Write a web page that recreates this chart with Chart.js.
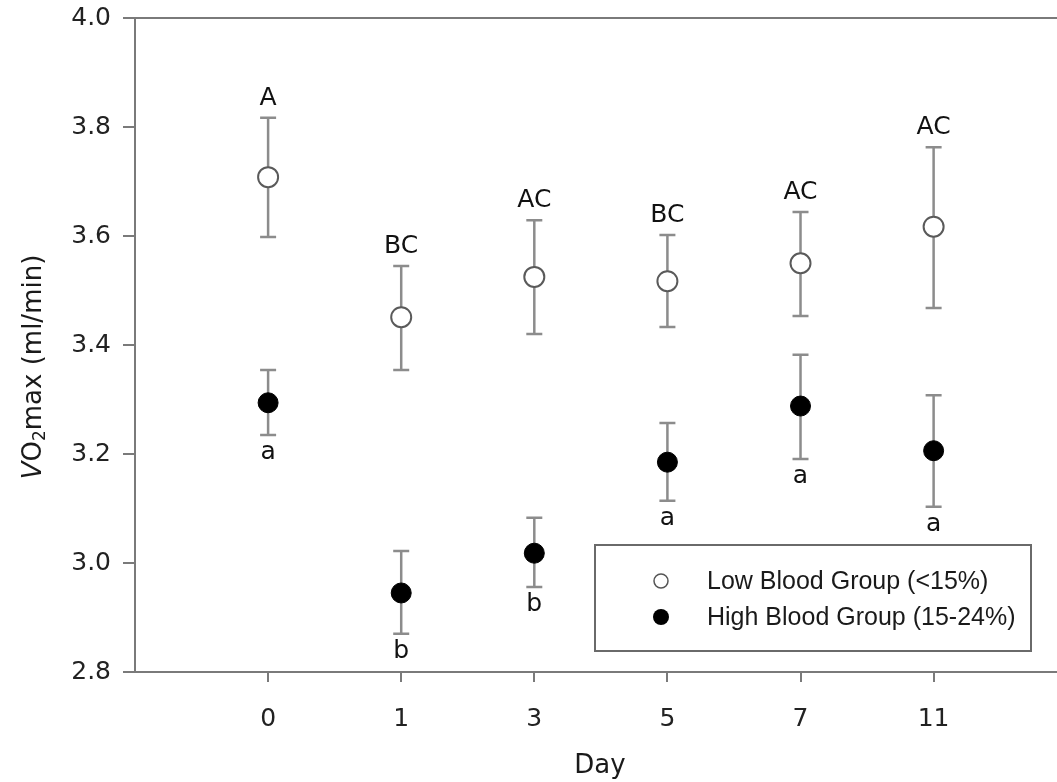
<!DOCTYPE html>
<html>
<head>
<meta charset="utf-8">
<script src="https://cdn.jsdelivr.net/npm/chart.js@4/dist/chart.umd.min.js"></script>
<style>
  html, body { margin: 0; padding: 0; background: #fff; }
  #c { display: block; }
</style>
</head>
<body>
<canvas id="c" width="1057" height="782"></canvas>
<script>
// ---- data ----
const days = ["0", "1", "3", "5", "7", "11"];
const lowMean  = [3.708, 3.451, 3.525, 3.517, 3.550, 3.617];
const lowUpper = [3.817, 3.545, 3.629, 3.602, 3.644, 3.763];
const lowLower = [3.598, 3.354, 3.420, 3.433, 3.453, 3.468];
const highMean  = [3.294, 2.945, 3.018, 3.185, 3.288, 3.206];
const highUpper = [3.354, 3.022, 3.083, 3.257, 3.382, 3.308];
const highLower = [3.235, 2.870, 2.956, 3.114, 3.191, 3.103];
const lowLetters  = ["A", "BC", "AC", "BC", "AC", "AC"];
const highLetters = ["a", "b", "b", "a", "a", "a"];
const yTickValues = [2.8, 3.0, 3.2, 3.4, 3.6, 3.8, 4.0];
const seriesNames = ["Low Blood Group (<15%)", "High Blood Group (15-24%)"];

const FONT = "'DejaVu Sans', sans-serif";
const LFONT = "'Liberation Sans', Arial, sans-serif";
const AXIS = "#7a7a7a";
const BAR = "#8c8c8c";

const toPts = arr => arr.map((v, i) => ({ x: i, y: v }));

const errorBars = {
  id: 'errorBars',
  beforeDatasetsDraw(chart) {
    const { ctx, scales: { x, y } } = chart;
    const sets = [[lowUpper, lowLower], [highUpper, highLower]];
    ctx.save();
    ctx.strokeStyle = BAR;
    ctx.lineWidth = 2.5;
    sets.forEach(([up, lo]) => {
      up.forEach((u, i) => {
        const px = x.getPixelForValue(i);
        const pu = y.getPixelForValue(u);
        const pl = y.getPixelForValue(lo[i]);
        ctx.beginPath();
        ctx.moveTo(px, pu); ctx.lineTo(px, pl);
        ctx.moveTo(px - 8, pu); ctx.lineTo(px + 8, pu);
        ctx.moveTo(px - 8, pl); ctx.lineTo(px + 8, pl);
        ctx.stroke();
      });
    });
    ctx.restore();
  },
  afterDatasetsDraw(chart) {
    const { ctx, scales: { x, y } } = chart;
    ctx.save();
    ctx.fillStyle = "#111";
    ctx.font = "25px " + FONT;
    ctx.textAlign = "center";
    ctx.textBaseline = "alphabetic";
    lowLetters.forEach((t, i) => {
      ctx.fillText(t, x.getPixelForValue(i), y.getPixelForValue(lowUpper[i]) - 13);
    });
    highLetters.forEach((t, i) => {
      ctx.fillText(t, x.getPixelForValue(i), y.getPixelForValue(highLower[i]) + 24);
    });

    // legend box
    ctx.strokeStyle = "#6a6a6a";
    ctx.lineWidth = 2;
    ctx.strokeRect(595, 545, 436, 106);
    ctx.textAlign = "left";
    ctx.textBaseline = "middle";
    const rows = [581, 617];
    ctx.beginPath(); ctx.arc(661, rows[0], 7, 0, Math.PI * 2);
    ctx.fillStyle = "#fff"; ctx.fill();
    ctx.lineWidth = 1.5; ctx.strokeStyle = "#555"; ctx.stroke();
    ctx.beginPath(); ctx.arc(661, rows[1], 8, 0, Math.PI * 2);
    ctx.fillStyle = "#000"; ctx.fill();
    ctx.fillStyle = "#1a1a1a";
    ctx.font = "25px " + LFONT;
    ctx.fillText(seriesNames[0], 707, rows[0] + 1);
    ctx.fillText(seriesNames[1], 707, rows[1] + 1);

    // x title
    ctx.textAlign = "center";
    ctx.font = "26px " + FONT;
    ctx.fillText("Day", (chart.chartArea.left + chart.chartArea.right) / 2 + 4, 766);

    // y title with italic V and subscript 2
    const cy = (chart.chartArea.top + chart.chartArea.bottom) / 2 + 22;
    ctx.translate(34, cy);
    ctx.rotate(-Math.PI / 2);
    const parts = [
      { t: "V", f: "italic 26px " + FONT, dy: 0 },
      { t: "O", f: "26px " + FONT, dy: 0 },
      { t: "2", f: "17px " + FONT, dy: 7 },
      { t: "max (ml/min)", f: "26px " + FONT, dy: 0 }
    ];
    let total = 0;
    parts.forEach(p => { ctx.font = p.f; p.w = ctx.measureText(p.t).width; total += p.w; });
    let cx = -total / 2;
    ctx.textAlign = "left";
    parts.forEach(p => { ctx.font = p.f; ctx.fillText(p.t, cx, p.dy); cx += p.w; });
    ctx.restore();
  }
};

new Chart(document.getElementById('c'), {
  type: 'scatter',
  data: {
    datasets: [
      {
        label: seriesNames[0],
        data: toPts(lowMean),
        pointRadius: 10,
        pointBackgroundColor: '#ffffff',
        pointBorderColor: '#5a5a5a',
        pointBorderWidth: 2,
        showLine: false
      },
      {
        label: seriesNames[1],
        data: toPts(highMean),
        pointRadius: 10,
        pointBackgroundColor: '#000000',
        pointBorderColor: '#000000',
        pointBorderWidth: 1,
        showLine: false
      }
    ]
  },
  options: {
    responsive: false,
    devicePixelRatio: 1,
    animation: false,
    layout: { padding: 0, autoPadding: false },
    plugins: { legend: { display: false }, tooltip: { enabled: false } },
    scales: {
      x: {
        type: 'linear',
        position: 'bottom',
        min: -1,
        max: 5.927,
        afterBuildTicks: s => { s.ticks = days.map((d, i) => ({ value: i })); },
        afterFit: s => { s.height = 110; s.paddingLeft = 0; s.paddingRight = 0; },
        ticks: {
          callback: v => days[v],
          font: { family: FONT, size: 25 },
          color: '#222',
          padding: 22,
          maxRotation: 0
        },
        grid: { display: true, drawOnChartArea: false, drawTicks: true, tickLength: 10, color: AXIS, lineWidth: 2 },
        border: { display: true, color: AXIS, width: 2 }
      },
      x2: {
        type: 'linear',
        position: 'top',
        min: -1,
        max: 5.927,
        afterFit: s => { s.height = 18; s.paddingLeft = 0; s.paddingRight = 0; },
        ticks: { display: false },
        grid: { display: false },
        border: { display: true, color: AXIS, width: 2 }
      },
      y: {
        min: 2.8,
        max: 4.0,
        afterBuildTicks: s => { s.ticks = yTickValues.map(v => ({ value: v })); },
        afterFit: s => { s.width = 135; s.paddingTop = 0; s.paddingBottom = 0; },
        ticks: {
          callback: v => Number(v).toFixed(1),
          font: { family: FONT, size: 25 },
          color: '#222',
          padding: 12
        },
        grid: { display: true, drawOnChartArea: false, drawTicks: true, tickLength: 12, color: AXIS, lineWidth: 2 },
        border: { display: true, color: AXIS, width: 2 }
      }
    }
  },
  plugins: [errorBars]
});
</script>
</body>
</html>
